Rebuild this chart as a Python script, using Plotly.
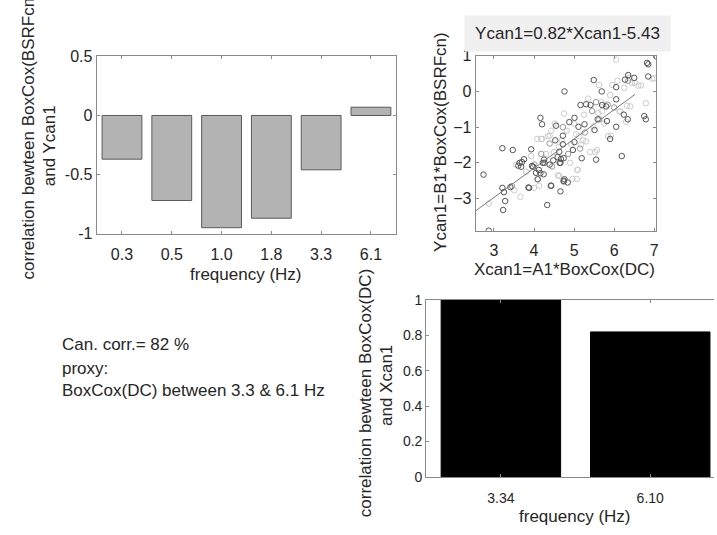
import plotly.graph_objects as go

# ---------------- data ----------------
freq_labels = ["0.3", "0.5", "1.0", "1.8", "3.3", "6.1"]
corr_y = [-0.37, -0.72, -0.95, -0.87, -0.46, 0.07]

proxy_labels = ["3.34", "6.10"]
corr_x = [1.0, 0.82]

dark_x = [2.74, 2.87, 3.21, 3.23, 3.28, 3.25, 3.47, 3.41, 3.64, 3.61, 3.75, 3.86, 3.93, 3.95,
          4.05, 4.16, 4.20, 4.24, 4.26, 4.33, 4.39, 4.43, 4.55, 4.53, 4.63, 4.59, 4.66, 4.66,
          4.72, 4.76, 4.74, 4.74, 4.84, 4.88, 4.97, 5.01, 5.01, 5.11, 5.16, 5.19, 5.26, 5.30,
          5.41, 5.49, 5.51, 5.55, 5.59, 5.69, 5.70, 5.80, 5.82, 5.90, 6.05, 6.05, 6.05, 6.19,
          6.24, 6.27, 6.35, 6.34, 6.50, 6.75, 6.79, 6.82, 6.85, 6.85, 7.05,
          3.21, 3.70, 3.68, 3.88, 3.98, 4.12, 4.16, 4.09, 4.22, 4.25, 4.42, 4.48, 4.64, 4.67,
          4.74, 4.76, 4.72]
dark_y = [-2.33, -3.90, -1.59, -3.32, -3.07, -2.82, -1.64, -2.68, -2.00, -2.08, -1.90, -2.69, -1.62, -2.09,
          -2.28, -0.74, -0.92, -2.32, -2.00, -3.18, -2.05, -2.64, -0.96, -1.37, -1.69, -1.84, -2.00, -2.80,
          -1.24, 0.00, -1.87, -2.50, -2.55, -0.86, -1.64, -1.42, -0.74, -0.99, -0.38, -1.87, -0.92, -0.36,
          -0.38, 0.32, -1.08, -1.91, -0.78, 0.00, -0.38, -0.42, -0.83, -1.33, 0.12, -0.22, -0.99, -1.81,
          -0.65, 0.33, 0.46, -0.78, 0.38, -0.69, -0.78, 0.80, 0.76, 0.42, 0.98,
          -2.70, -1.98, -2.11, -2.70, -2.11, -2.20, -2.29, -2.46, -2.00, -1.91, -2.64, -1.93, -2.00, -1.89,
          -2.52, -2.46, -1.48]

mid_x = [4.01, 4.39, 4.72, 5.27, 5.45, 5.63, 5.84, 6.35, 4.85, 4.45, 5.15, 3.45, 4.18, 5.55, 6.00]
mid_y = [-2.05, -1.46, -1.00, -1.15, -0.55, -0.78, -0.37, 0.30, -1.75, -2.10, -1.60, -2.65, -1.75, -0.30, -0.45]

light_x = [2.87, 3.51, 3.66, 3.93, 4.10, 4.13, 4.20, 4.08, 4.43, 4.52, 4.62, 4.60, 4.69, 4.82, 4.93,
           5.05, 5.07, 5.08, 5.13, 5.17, 5.35, 5.48, 5.52, 5.62, 5.68, 5.70, 5.85, 5.95, 6.05, 6.08,
           6.16, 6.30, 6.32, 6.38, 6.44, 6.60, 6.79, 6.95, 4.96, 4.30, 4.50, 4.90, 5.30, 5.60, 3.80,
           4.00, 4.75, 5.25, 5.90, 6.25, 3.55, 4.35, 5.00, 5.40, 5.75,
           4.18, 4.39, 4.63, 5.09, 5.22, 5.57, 5.92, 6.13, 6.40, 6.52, 6.67, 7.00]
light_y = [-3.14, -2.77, -2.95, -1.81, -2.46, -2.64, -1.33, -1.33, -1.10, -0.90, -1.55, -2.35, -1.37, -1.10, -1.49,
           -1.20, -2.45, -2.20, -1.25, -1.49, -0.20, -0.98, -1.70, 0.18, -0.30, -0.55, -1.25, 0.18, 0.89, 0.30,
           -0.56, -0.85, -0.40, 0.38, 0.24, 0.16, -0.33, 0.36, -2.45, -1.75, -1.70, -2.00, -1.40, -0.60, -2.25,
           -2.70, -0.62, -0.65, -0.10, 0.10, -2.05, -1.25, -0.90, -1.70, -0.90,
           -1.33, -1.24, -2.37, -2.19, -1.37, -1.64, -1.24, -0.56, -0.42, 0.24, 0.17, 0.37]

fit_slope = 0.82
fit_intercept = -5.43
fit_x = [2.545, 6.52]
fit_y = [fit_slope * v + fit_intercept for v in fit_x]

W, H = 717, 535
FONT = "Liberation Sans, Arial, Helvetica, sans-serif"
TXT = "#262626"
LINE = "#8a8a8a"


def px(x):
    return x / W


def py(y):
    return 1 - y / H


fig = go.Figure()

# top-left bars
fig.add_trace(go.Bar(x=freq_labels, y=corr_y, width=0.8,
                     marker=dict(color="#b3b3b3", line=dict(color="#5a5a5a", width=1)),
                     xaxis="x", yaxis="y", showlegend=False))

# scatter
for xs, ys, col in [(light_x, light_y, "#cccccc"), (mid_x, mid_y, "#999999"), (dark_x, dark_y, "#555555")]:
    fig.add_trace(go.Scatter(x=xs, y=ys, mode="markers",
                             marker=dict(symbol="circle-open", size=5.5, color=col, line=dict(width=1, color=col)),
                             xaxis="x2", yaxis="y2", showlegend=False))
fig.add_trace(go.Scatter(x=fit_x, y=fit_y, mode="lines", line=dict(color="#7a7a7a", width=1),
                         xaxis="x2", yaxis="y2", showlegend=False))

# bottom-right bars
fig.add_trace(go.Bar(x=proxy_labels, y=corr_x, width=0.8,
                     marker=dict(color="black", line=dict(color="black", width=1)),
                     xaxis="x3", yaxis="y3", showlegend=False))

axis_common = dict(showgrid=False, zeroline=False, showline=True, linecolor=LINE, linewidth=1,
                   ticks="inside", ticklen=3, tickcolor=LINE,
                   tickfont=dict(family=FONT, size=16, color=TXT))

fig.update_layout(
    width=W, height=H, margin=dict(l=0, r=0, t=0, b=0),
    paper_bgcolor="white", plot_bgcolor="white",
    bargap=0.2,
    xaxis=dict(axis_common, domain=[px(97), px(398)], anchor="y", type="category",
               range=[-0.51, 5.51], mirror="allticks", ticklabelstandoff=6),
    yaxis=dict(axis_common, domain=[py(233), py(50)], anchor="x", range=[-1, 0.5],
               tickvals=[-1, -0.5, 0, 0.5], ticktext=["-1", "-0.5", "0", "0.5"], mirror="allticks"),
    xaxis2=dict(axis_common, domain=[px(477.7), px(659)], anchor="y2", range=[2.545, 7.05],
                tickvals=[3, 4, 5, 6, 7], mirror="allticks", ticklabelstandoff=5),
    yaxis2=dict(axis_common, domain=[py(230), py(49.3)], anchor="x2", range=[-3.9, 1.0],
                tickvals=[-3, -2, -1, 0, 1], mirror="allticks"),
    xaxis3=dict(axis_common, domain=[px(428), 1.0], anchor="y3", type="category",
                range=[-0.5, 1.427], mirror="allticks", tickfont=dict(family=FONT, size=14, color=TXT),
                ticklabelstandoff=8),
    yaxis3=dict(axis_common, domain=[py(484.3), py(301.7)], anchor="x3", range=[0, 1],
                tickvals=[0, 0.2, 0.4, 0.6, 0.8, 1], ticktext=["0", "0.2", "0.4", "0.6", "0.8", "1"],
                tickfont=dict(family=FONT, size=14, color=TXT)),
)


def ann(text, x, y, size=17, angle=0, xanchor="center", yanchor="middle", **kw):
    fig.add_annotation(text=text, x=px(x), y=py(y), xref="paper", yref="paper",
                       showarrow=False, textangle=angle, xanchor=xanchor, yanchor=yanchor,
                       font=dict(family=FONT, size=size, color=TXT), **kw)


# top-left titles
ann("correlation bewteen BoxCox(BSRFcn)", 29, 282, angle=-90, yanchor="bottom")
ann("and Ycan1", 50, 142, angle=-90)
ann("frequency (Hz)", 246.5, 275)

# scatter titles
ann("Ycan1=0.82*Xcan1-5.43", 569.5, 26.5, width=203, height=33, bgcolor="#f0f0f0")
ann("Xcan1=A1*BoxCox(DC)", 567, 270)
ann("Ycan1=B1*BoxCox(BSRFcn)", 441.7, 138.5, angle=-90)

# bottom-right titles
ann("correlation bewteen BoxCox(DC)", 367, 528, angle=-90, yanchor="bottom")
ann("and Xcan1", 388, 390, angle=-90)
ann("frequency (Hz)", 577, 525)

# text block
ann("Can. corr.= 82 %", 60, 348, xanchor="left")
ann("proxy:", 60, 372, xanchor="left")
ann("BoxCox(DC) between 3.3 &amp; 6.1 Hz", 60, 395, xanchor="left")

fig.write_html("out.html", config={"displayModeBar": False},
               post_script="document.body.style.margin='0';document.body.style.overflow='hidden';")
